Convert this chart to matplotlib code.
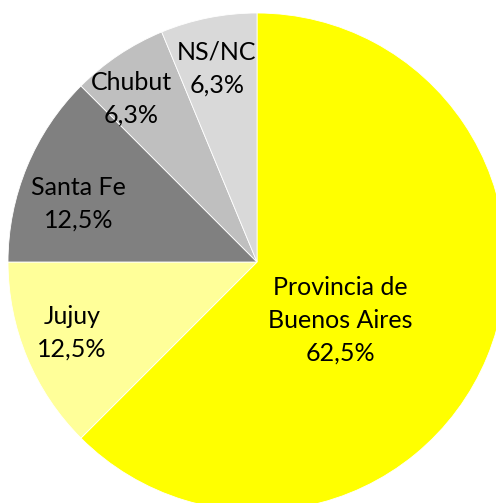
import math
import matplotlib
matplotlib.use("Agg")
import matplotlib.pyplot as plt

# data
categories = ["Provincia de\nBuenos Aires", "Jujuy", "Santa Fe", "Chubut", "NS/NC"]
counts = [10, 2, 2, 1, 1]
colors = ["#FFFF00", "#FFFF99", "#808080", "#BFBFBF", "#D9D9D9"]
# label placement: (fraction of radius, angle in degrees)
label_pos = [(0.41, -35), (0.795, -159), (0.755, 162), (0.827, 127.7), (0.795, 101.7)]

W, H = 496, 503
fig = plt.figure(figsize=(W / 100, H / 100), dpi=100)
ax = fig.add_axes([0, 0, 1, 1])

cx, cy, r = 257, 241, 249
ax.pie(counts, colors=colors, startangle=90, counterclock=False,
       center=(cx, cy), radius=r, frame=True,
       wedgeprops=dict(edgecolor="white", linewidth=0.6))
ax.set_xlim(0, W)
ax.set_ylim(0, H)
ax.set_aspect("equal")
ax.axis("off")

total = sum(counts)
for cat, n, (f, a) in zip(categories, counts, label_pos):
    pct = math.floor(n / total * 1000 + 0.5) / 10
    txt = cat + "\n" + f"{pct:.1f}".replace(".", ",") + "%"
    x = cx + f * r * math.cos(math.radians(a))
    y = cy + f * r * math.sin(math.radians(a))
    ax.text(x, y, txt, ha="center", va="center", fontsize=18,
            family="Lato", linespacing=1.52, color="black")

fig.savefig("out.png", dpi=100)
